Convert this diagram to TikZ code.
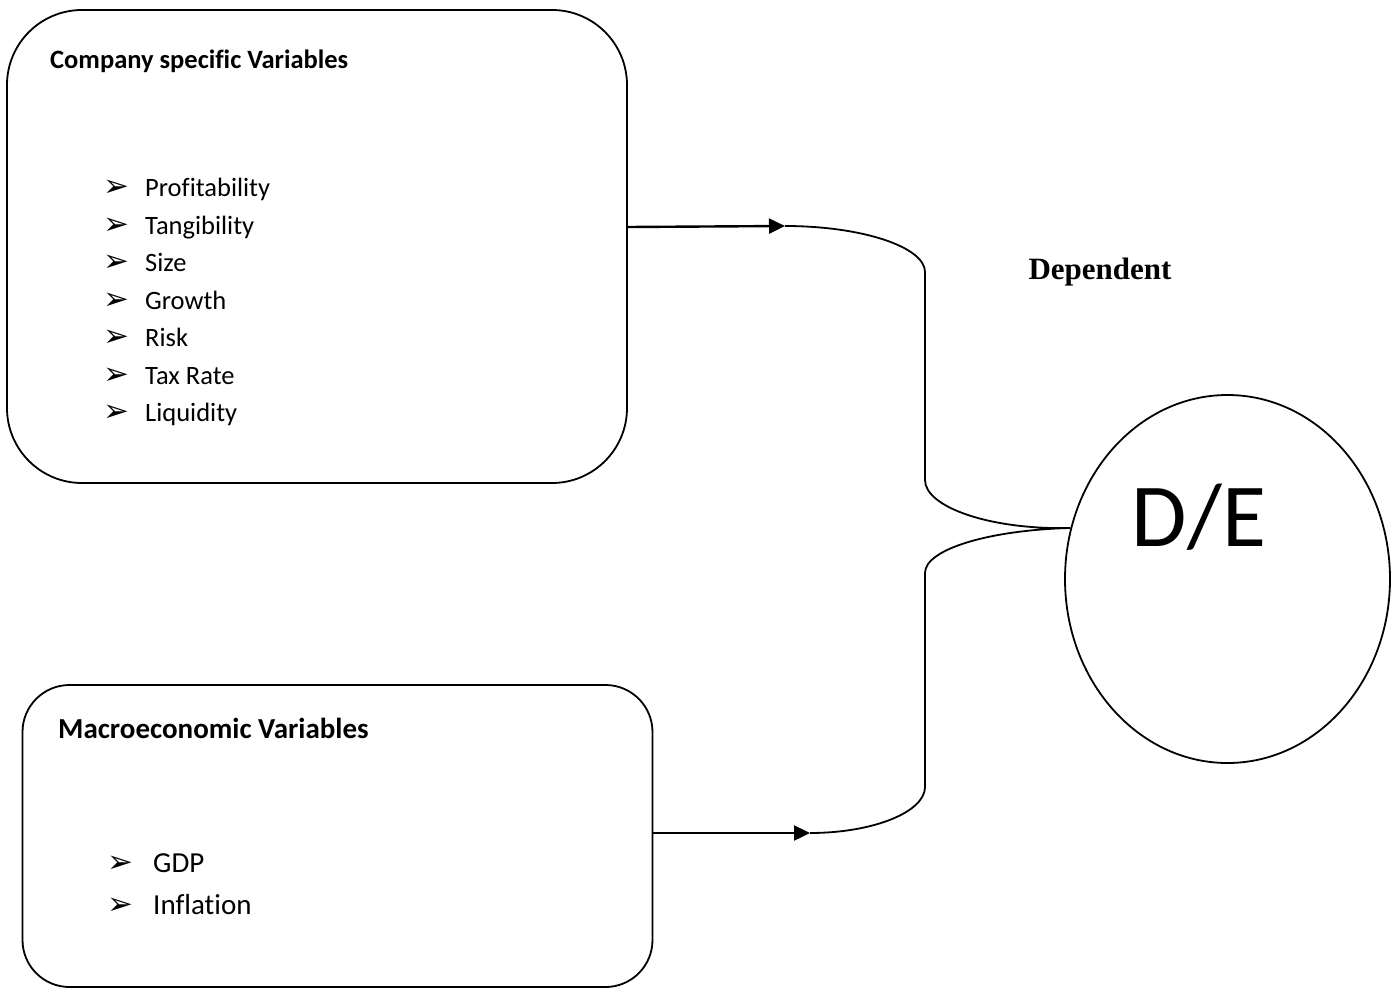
\documentclass[tikz,border=0pt]{standalone}
\usepackage{fontspec}
\setmainfont[Ligatures=NoCommon]{Carlito}
\newfontfamily\timesfont{Liberation Serif}
\newfontfamily\dingfont{DejaVu Sans}
\usetikzlibrary{shapes.geometric,arrows.meta}
\newcommand{\puce}[1]{\makebox[#1][l]{\dingfont\fontsize{31}{31}\selectfont ➢}}

\begin{document}
\begin{tikzpicture}[x=1pt,y=-1pt]
\tikzset{boite/.style={draw, line width=1.8pt, inner sep=0pt},
  titre/.style={anchor=base west, inner sep=0pt, font=\bfseries},
  item/.style={anchor=base west, inner sep=0pt},
  fleche/.style={line width=2.4pt, -{Triangle[length=16pt,width=15pt]}}}
\useasboundingbox (0,0) rectangle (1400,988);
\node[boite, rounded corners=75pt, minimum width=620pt, minimum height=473pt] (E) at (317,246.5) {};
\node[boite, rounded corners=47pt, minimum width=630pt, minimum height=302pt] (M) at (337.5,836) {};
\node[boite, ellipse, minimum width=325pt, minimum height=368pt] (DE) at (1227.5,579) {};
\node[inner sep=0pt, font=\fontsize{90}{90}\selectfont] (DEtxt) at (1199,517) {D/E};
\node[inner sep=0pt, font=\timesfont\bfseries\fontsize{31}{31}\selectfont] (Dep) at (1100,272) {Dependent};
% company specific
\node[titre, font=\bfseries\fontsize{26.5}{30}\selectfont] (Et) at (50,68.5) {Company specific Variables};
\begin{scope}[every node/.append style={font=\fontsize{26.5}{30}\selectfont}]
\node[item] (E1) at (103,196.5) {\puce{42pt}Profitability};
\node[item] (E2) at (103,234) {\puce{42pt}Tangibility};
\node[item] (E3) at (103,271.5) {\puce{42pt}Size};
\node[item] (E4) at (103,309) {\puce{42pt}Growth};
\node[item] (E5) at (103,346.5) {\puce{42pt}Risk};
\node[item] (E6) at (103,384) {\puce{42pt}Tax Rate};
\node[item] (E7) at (103,421.5) {\puce{42pt}Liquidity};
\end{scope}
% macroeconomic
\node[titre, font=\bfseries\fontsize{29}{32}\selectfont] (Mt) at (58,738.5) {Macroeconomic Variables};
\begin{scope}[every node/.append style={font=\fontsize{29}{32}\selectfont}]
\node[item] (M1) at (107,872.3) {\puce{46pt}GDP};
\node[item] (M2) at (107,914.3) {\puce{46pt}Inflation};
\end{scope}
% brace
\coordinate (haut) at (785,226);
\coordinate (bas) at (810,833);
\draw[fleche] (E.east |- 0,227) -- (haut);
\draw[fleche] (M.east |- 0,833) -- (bas);
\draw[line width=1.8pt] (haut) .. controls (862,226) and (925,247) .. (925,272) -- (925,480)
  .. controls (925,507) and (990,530) .. (DE.162)
  .. controls (990,530) and (925,549) .. (925,573) -- (925,787)
  .. controls (925,812) and (873,833) .. (bas);
\end{tikzpicture}
\end{document}
